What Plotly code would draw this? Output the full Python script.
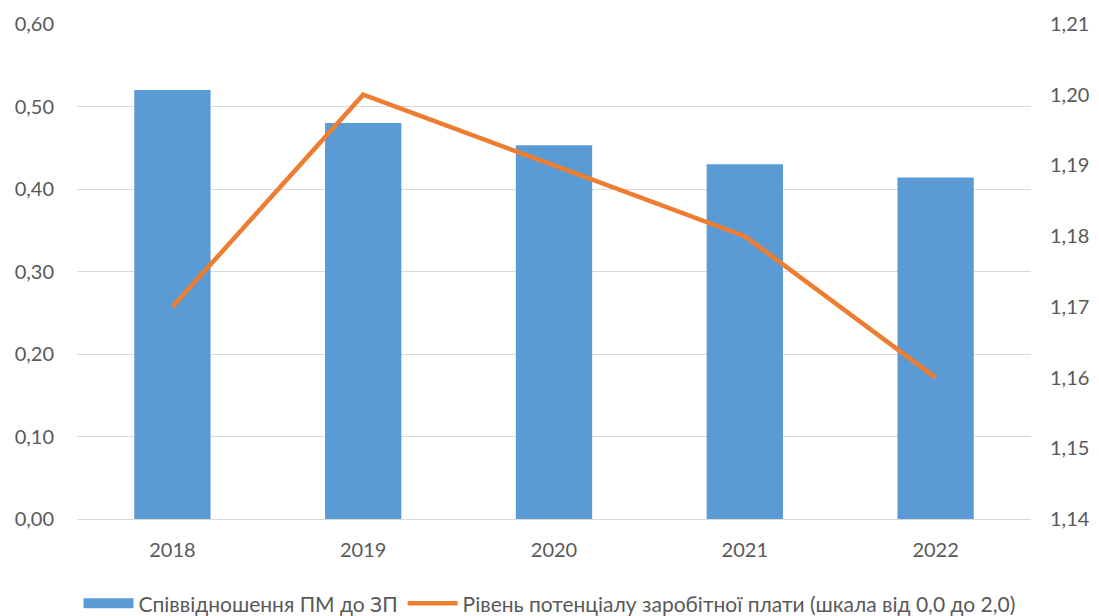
import plotly.graph_objects as go

years = ["2018", "2019", "2020", "2021", "2022"]
ratio_pm_zp = [0.52, 0.48, 0.453, 0.43, 0.414]
wage_potential = [1.17, 1.20, 1.19, 1.18, 1.16]

bar_name = "Співвідношення ПМ до ЗП"
line_name = "Рівень потенціалу заробітної плати (шкала від 0,0 до 2,0)"

font_family = "Lato, 'Open Sans', sans-serif"
text_color = "#595959"
grid_color = "#D9D9D9"
bar_color = "#5B9BD5"
line_color = "#ED7D31"

fig = go.Figure()
fig.add_trace(go.Bar(x=years, y=ratio_pm_zp, name=bar_name, showlegend=False,
                     legendgroup="bars",
                     marker=dict(color=bar_color, line=dict(width=0)), yaxis="y"))
# legend proxy giving the wide rectangular swatch of the bar series
fig.add_trace(go.Scatter(x=[None], y=[None], name=bar_name, mode="lines",
                         legendgroup="bars", hoverinfo="skip",
                         line=dict(color=bar_color, width=15), yaxis="y"))
fig.add_trace(go.Scatter(x=years, y=wage_potential, name=line_name, mode="lines",
                         line=dict(color=line_color, width=4.5), yaxis="y2"))

fig.update_layout(
    width=1099, height=616,
    margin=dict(l=77, r=68, t=24, b=97, autoexpand=False),
    plot_bgcolor="white", paper_bgcolor="white",
    separators=", ",
    bargap=0.6,
    font=dict(family=font_family, size=20, color=text_color),
    xaxis=dict(showgrid=False, showline=True, linecolor=grid_color, linewidth=1,
               ticks="", ticklabelstandoff=13, automargin=False,
               tickfont=dict(size=20, color=text_color)),
    yaxis=dict(range=[0, 0.6], dtick=0.1, tickformat=".2f", showgrid=True,
               gridcolor=grid_color, gridwidth=1, zeroline=False, ticks="",
               ticklabelstandoff=22, automargin=False,
               tickfont=dict(size=20, color=text_color)),
    yaxis2=dict(range=[1.14, 1.21], dtick=0.01, tickformat=".2f", overlaying="y",
                side="right", showgrid=False, zeroline=False, ticks="",
                ticklabelstandoff=18, automargin=False,
                tickfont=dict(size=20, color=text_color)),
    legend=dict(orientation="h", x=0.5, xanchor="center", xref="container",
                y=0.02, yanchor="middle", yref="container",
                font=dict(size=21, color=text_color), itemwidth=50,
                traceorder="normal"),
)

fig.write_html("out.html", config={"displayModeBar": False},
               post_script="document.body.style.margin='0px';document.body.style.overflow='hidden';")
